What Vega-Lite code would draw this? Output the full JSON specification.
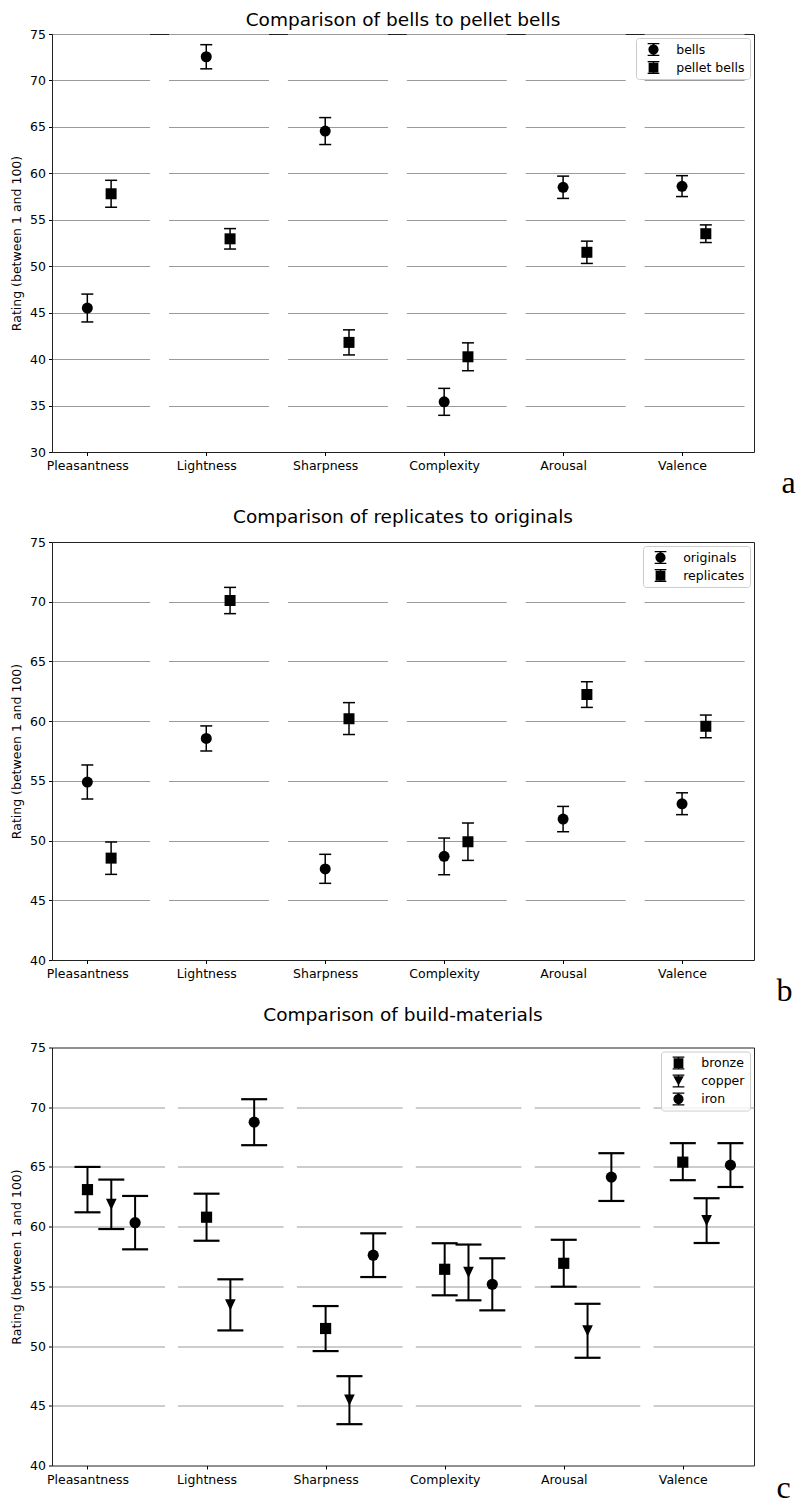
{
  "$schema": "https://vega.github.io/schema/vega-lite/v6.json",
  "padding": {"left": 10, "top": 10, "right": 0, "bottom": 0},
  "background": "white",
  "bounds": "flush",
  "spacing": 90,
  "datasets": {
    "bells": [
      {"attribute": "Pleasantness", "group": "bells", "mean": 45.5, "lower": 44.0, "upper": 47.0},
      {"attribute": "Pleasantness", "group": "pellet bells", "mean": 57.8, "lower": 56.35, "upper": 59.25},
      {"attribute": "Lightness", "group": "bells", "mean": 72.55, "lower": 71.25, "upper": 73.85},
      {"attribute": "Lightness", "group": "pellet bells", "mean": 52.95, "lower": 51.85, "upper": 54.05},
      {"attribute": "Sharpness", "group": "bells", "mean": 64.55, "lower": 63.1, "upper": 66.0},
      {"attribute": "Sharpness", "group": "pellet bells", "mean": 41.8, "lower": 40.45, "upper": 43.15},
      {"attribute": "Complexity", "group": "bells", "mean": 35.4, "lower": 33.95, "upper": 36.85},
      {"attribute": "Complexity", "group": "pellet bells", "mean": 40.25, "lower": 38.75, "upper": 41.75},
      {"attribute": "Arousal", "group": "bells", "mean": 58.5, "lower": 57.3, "upper": 59.7},
      {"attribute": "Arousal", "group": "pellet bells", "mean": 51.5, "lower": 50.3, "upper": 52.7},
      {"attribute": "Valence", "group": "bells", "mean": 58.6, "lower": 57.5, "upper": 59.75},
      {"attribute": "Valence", "group": "pellet bells", "mean": 53.5, "lower": 52.55, "upper": 54.45}
    ],
    "replicates": [
      {"attribute": "Pleasantness", "group": "originals", "mean": 54.9, "lower": 53.48, "upper": 56.33},
      {"attribute": "Pleasantness", "group": "replicates", "mean": 48.53, "lower": 47.17, "upper": 49.88},
      {"attribute": "Lightness", "group": "originals", "mean": 58.55, "lower": 57.5, "upper": 59.6},
      {"attribute": "Lightness", "group": "replicates", "mean": 70.1, "lower": 69.0, "upper": 71.2},
      {"attribute": "Sharpness", "group": "originals", "mean": 47.63, "lower": 46.42, "upper": 48.85},
      {"attribute": "Sharpness", "group": "replicates", "mean": 60.2, "lower": 58.88, "upper": 61.55},
      {"attribute": "Complexity", "group": "originals", "mean": 48.68, "lower": 47.14, "upper": 50.21},
      {"attribute": "Complexity", "group": "replicates", "mean": 49.9, "lower": 48.34, "upper": 51.47},
      {"attribute": "Arousal", "group": "originals", "mean": 51.8, "lower": 50.74, "upper": 52.86},
      {"attribute": "Arousal", "group": "replicates", "mean": 62.23, "lower": 61.15, "upper": 63.3},
      {"attribute": "Valence", "group": "originals", "mean": 53.08, "lower": 52.17, "upper": 54.0},
      {"attribute": "Valence", "group": "replicates", "mean": 59.57, "lower": 58.61, "upper": 60.51}
    ],
    "materials": [
      {"attribute": "Pleasantness", "group": "bronze", "mean": 63.1, "lower": 61.2, "upper": 65.0},
      {"attribute": "Pleasantness", "group": "copper", "mean": 61.87, "lower": 59.8, "upper": 63.94},
      {"attribute": "Pleasantness", "group": "iron", "mean": 60.33, "lower": 58.1, "upper": 62.57},
      {"attribute": "Lightness", "group": "bronze", "mean": 60.79, "lower": 58.82, "upper": 62.76},
      {"attribute": "Lightness", "group": "copper", "mean": 53.45, "lower": 51.31, "upper": 55.59},
      {"attribute": "Lightness", "group": "iron", "mean": 68.75, "lower": 66.82, "upper": 70.67},
      {"attribute": "Sharpness", "group": "bronze", "mean": 51.47, "lower": 49.58, "upper": 53.35},
      {"attribute": "Sharpness", "group": "copper", "mean": 45.47, "lower": 43.46, "upper": 47.48},
      {"attribute": "Sharpness", "group": "iron", "mean": 57.61, "lower": 55.78, "upper": 59.44},
      {"attribute": "Complexity", "group": "bronze", "mean": 56.43, "lower": 54.25, "upper": 58.61},
      {"attribute": "Complexity", "group": "copper", "mean": 56.17, "lower": 53.83, "upper": 58.5},
      {"attribute": "Complexity", "group": "iron", "mean": 55.17, "lower": 52.99, "upper": 57.35},
      {"attribute": "Arousal", "group": "bronze", "mean": 56.93, "lower": 54.97, "upper": 58.9},
      {"attribute": "Arousal", "group": "copper", "mean": 51.28, "lower": 49.02, "upper": 53.54},
      {"attribute": "Arousal", "group": "iron", "mean": 64.15, "lower": 62.15, "upper": 66.15},
      {"attribute": "Valence", "group": "bronze", "mean": 65.4, "lower": 63.89, "upper": 66.99},
      {"attribute": "Valence", "group": "copper", "mean": 60.5, "lower": 58.63, "upper": 62.38},
      {"attribute": "Valence", "group": "iron", "mean": 65.15, "lower": 63.32, "upper": 66.99}
    ]
  },
  "resolve": {"scale": {"shape": "independent", "x": "independent", "y": "independent"}, "legend": {"shape": "independent"}},
  "vconcat": [
    {
      "title": {"text": "Comparison of bells to pellet bells", "offset": -16.5, "frame": "group", "baseline": "alphabetic"},
      "width": 702,
      "height": 418,
      "data": {"name": "bells"},
      "transform": [
        {"calculate": "indexof(['Pleasantness','Lightness','Sharpness','Complexity','Arousal','Valence'], datum.attribute) + 0.2 * indexof(['bells','pellet bells'], datum.group)", "as": "xpos"}
      ],
      "encoding": {
        "x": {"field": "xpos", "type": "quantitative", "scale": {"domain": [-0.297, 5.605], "nice": false, "zero": false},
          "axis": {"values": [0, 1, 2, 3, 4, 5], "labelExpr": "['Pleasantness','Lightness','Sharpness','Complexity','Arousal','Valence'][datum.value]", "grid": false, "labelFlush": false, "labelOverlap": false, "labelPadding": 4,
            "title": "a", "titleFont": "Liberation Serif", "titleFontSize": 32, "titleX": 729, "titleY": 40, "titleAlign": "left", "titleBaseline": "alphabetic", "titleAngle": 0}}
      },
      "resolve": {"scale": {"shape": "independent"}, "legend": {"shape": "independent"}},
      "layer": [
        {
          "mark": {"type": "rule", "color": "black", "strokeWidth": 1.5},
          "encoding": {
            "y": {"field": "lower", "type": "quantitative", "title": "Rating (between 1 and 100)", "scale": {"domain": [30, 75], "nice": false, "zero": false},
              "axis": {"values": [30, 35, 40, 45, 50, 55, 60, 65, 70, 75], "grid": true, "gridColor": "#9a9a9a", "gridWidth": 1,
                "gridDash": [97.5, 19, 100, 18.9, 100, 18.9, 100, 18.9, 100, 18.9, 100, 50],
                "gridOpacity": {"condition": {"test": "datum.value === 30", "value": 0}, "value": 1},
                "titlePadding": 6, "labelPadding": 3}},
            "y2": {"field": "upper"}
          }
        },
        {
          "mark": {"type": "tick", "orient": "horizontal", "color": "black", "size": 12, "thickness": 1.5, "opacity": 1},
          "encoding": {"y": {"field": "lower", "type": "quantitative", "title": "Rating (between 1 and 100)"}}
        },
        {
          "mark": {"type": "tick", "orient": "horizontal", "color": "black", "size": 12, "thickness": 1.5, "opacity": 1},
          "encoding": {"y": {"field": "upper", "type": "quantitative", "title": "Rating (between 1 and 100)"}}
        },
        {
          "mark": {"type": "point", "filled": true, "color": "black", "opacity": 1, "size": 121, "strokeWidth": 0},
          "encoding": {
            "y": {"field": "mean", "type": "quantitative", "title": "Rating (between 1 and 100)"},
            "shape": {"field": "group", "type": "nominal", "scale": {"domain": ["bells", "pellet bells"], "range": ["circle", "square"]}, "legend": null}
          }
        },
        {
          "mark": {"type": "point", "filled": true, "color": "black", "opacity": 0, "size": 169, "strokeWidth": 0},
          "encoding": {
            "y": {"field": "mean", "type": "quantitative", "title": "Rating (between 1 and 100)"},
            "shape": {"field": "group", "type": "nominal", "scale": {"domain": ["bells", "pellet bells"],
              "range": ["M-0.9,-1H0.9V-0.8H-0.9Z M-0.9,0.8H0.9V1H-0.9Z M-0.11,-1H0.11V1H-0.11Z M-0.78,0A0.78,0.78 0 1,1 0.78,0A0.78,0.78 0 1,1 -0.78,0Z", "M-0.9,-1H0.9V-0.8H-0.9Z M-0.9,0.8H0.9V1H-0.9Z M-0.11,-1H0.11V1H-0.11Z M-0.75,-0.75H0.75V0.75H-0.75Z"]},
              "legend": {"title": null, "orient": "top-right", "offset": 4}}
          }
        }
      ]
    },
    {
      "bounds": "flush",
      "spacing": 87.5,
      "resolve": {"scale": {"shape": "independent", "x": "independent", "y": "independent"}, "legend": {"shape": "independent"}},
      "vconcat": [
        {
          "title": {"text": "Comparison of replicates to originals", "offset": -5.5, "frame": "group", "baseline": "alphabetic"},
          "width": 702,
          "height": 418,
          "data": {"name": "replicates"},
          "transform": [
            {"calculate": "indexof(['Pleasantness','Lightness','Sharpness','Complexity','Arousal','Valence'], datum.attribute) + 0.2 * indexof(['originals','replicates'], datum.group)", "as": "xpos"}
          ],
          "encoding": {
            "x": {"field": "xpos", "type": "quantitative", "scale": {"domain": [-0.297, 5.605], "nice": false, "zero": false},
              "axis": {"values": [0, 1, 2, 3, 4, 5], "labelExpr": "['Pleasantness','Lightness','Sharpness','Complexity','Arousal','Valence'][datum.value]", "grid": false, "labelFlush": false, "labelOverlap": false, "labelPadding": 4,
                "title": "b", "titleFont": "Liberation Serif", "titleFontSize": 32, "titleX": 724, "titleY": 40, "titleAlign": "left", "titleBaseline": "alphabetic", "titleAngle": 0}}
          },
          "resolve": {"scale": {"shape": "independent"}, "legend": {"shape": "independent"}},
          "layer": [
            {
              "mark": {"type": "rule", "color": "black", "strokeWidth": 1.5},
              "encoding": {
                "y": {"field": "lower", "type": "quantitative", "title": "Rating (between 1 and 100)", "scale": {"domain": [40, 75], "nice": false, "zero": false},
                  "axis": {"values": [40, 45, 50, 55, 60, 65, 70, 75], "grid": true, "gridColor": "#9a9a9a", "gridWidth": 1,
                    "gridDash": [97.5, 19, 100, 18.9, 100, 18.9, 100, 18.9, 100, 18.9, 100, 50],
                    "gridOpacity": {"condition": {"test": "datum.value === 40 || datum.value === 75", "value": 0}, "value": 1},
                    "titlePadding": 6, "labelPadding": 3}},
                "y2": {"field": "upper"}
              }
            },
            {
              "mark": {"type": "tick", "orient": "horizontal", "color": "black", "size": 12, "thickness": 1.5, "opacity": 1},
              "encoding": {"y": {"field": "lower", "type": "quantitative", "title": "Rating (between 1 and 100)"}}
            },
            {
              "mark": {"type": "tick", "orient": "horizontal", "color": "black", "size": 12, "thickness": 1.5, "opacity": 1},
              "encoding": {"y": {"field": "upper", "type": "quantitative", "title": "Rating (between 1 and 100)"}}
            },
            {
              "mark": {"type": "point", "filled": true, "color": "black", "opacity": 1, "size": 121, "strokeWidth": 0},
              "encoding": {
                "y": {"field": "mean", "type": "quantitative", "title": "Rating (between 1 and 100)"},
                "shape": {"field": "group", "type": "nominal", "scale": {"domain": ["originals", "replicates"], "range": ["circle", "square"]}, "legend": null}
              }
            },
            {
              "mark": {"type": "point", "filled": true, "color": "black", "opacity": 0, "size": 169, "strokeWidth": 0},
              "encoding": {
                "y": {"field": "mean", "type": "quantitative", "title": "Rating (between 1 and 100)"},
                "shape": {"field": "group", "type": "nominal", "scale": {"domain": ["originals", "replicates"],
                  "range": ["M-0.9,-1H0.9V-0.8H-0.9Z M-0.9,0.8H0.9V1H-0.9Z M-0.11,-1H0.11V1H-0.11Z M-0.78,0A0.78,0.78 0 1,1 0.78,0A0.78,0.78 0 1,1 -0.78,0Z", "M-0.9,-1H0.9V-0.8H-0.9Z M-0.9,0.8H0.9V1H-0.9Z M-0.11,-1H0.11V1H-0.11Z M-0.75,-0.75H0.75V0.75H-0.75Z"]},
                  "legend": {"title": null, "orient": "top-right", "offset": 4}}
              }
            }
          ]
        },
        {
          "title": {"text": "Comparison of build-materials", "offset": 2, "frame": "group", "baseline": "alphabetic"},
          "width": 702,
          "height": 418,
          "data": {"name": "materials"},
          "transform": [
            {"calculate": "indexof(['Pleasantness','Lightness','Sharpness','Complexity','Arousal','Valence'], datum.attribute) + 0.2 * indexof(['bronze','copper','iron'], datum.group)", "as": "xpos"}
          ],
          "encoding": {
            "x": {"field": "xpos", "type": "quantitative", "scale": {"domain": [-0.298, 5.598], "nice": false, "zero": false},
              "axis": {"values": [0, 1, 2, 3, 4, 5], "labelExpr": "['Pleasantness','Lightness','Sharpness','Complexity','Arousal','Valence'][datum.value]", "grid": false, "labelFlush": false, "labelOverlap": false, "labelPadding": 4,
                "title": "c", "titleFont": "Liberation Serif", "titleFontSize": 32, "titleX": 724, "titleY": 32, "titleAlign": "left", "titleBaseline": "alphabetic", "titleAngle": 0}}
          },
          "resolve": {"scale": {"shape": "independent"}, "legend": {"shape": "independent"}},
          "layer": [
            {
              "mark": {"type": "rule", "color": "black", "strokeWidth": 2},
              "encoding": {
                "y": {"field": "lower", "type": "quantitative", "title": "Rating (between 1 and 100)", "scale": {"domain": [40, 75], "nice": false, "zero": false},
                  "axis": {"values": [40, 45, 50, 55, 60, 65, 70, 75], "grid": true, "gridColor": "#9a9a9a", "gridWidth": 1,
                    "gridDash": [112.5, 13, 105.6, 13.3, 105.6, 13.3, 105.6, 13.3, 105.6, 13.3, 105.6, 50],
                    "gridOpacity": {"condition": {"test": "datum.value === 40 || datum.value === 75", "value": 0}, "value": 1},
                    "titlePadding": 6, "labelPadding": 3}},
                "y2": {"field": "upper"}
              }
            },
            {
              "mark": {"type": "tick", "orient": "horizontal", "color": "black", "size": 26, "thickness": 2.2, "opacity": 1},
              "encoding": {"y": {"field": "lower", "type": "quantitative", "title": "Rating (between 1 and 100)"}}
            },
            {
              "mark": {"type": "tick", "orient": "horizontal", "color": "black", "size": 26, "thickness": 2.2, "opacity": 1},
              "encoding": {"y": {"field": "upper", "type": "quantitative", "title": "Rating (between 1 and 100)"}}
            },
            {
              "mark": {"type": "point", "filled": true, "color": "black", "opacity": 1, "size": 125, "strokeWidth": 0},
              "encoding": {
                "y": {"field": "mean", "type": "quantitative", "title": "Rating (between 1 and 100)"},
                "shape": {"field": "group", "type": "nominal", "scale": {"domain": ["bronze", "copper", "iron"], "range": ["square", "M-0.95,-1L0.95,-1L0,1Z", "circle"]}, "legend": null}
              }
            },
            {
              "mark": {"type": "point", "filled": true, "color": "black", "opacity": 0, "size": 169, "strokeWidth": 0},
              "encoding": {
                "y": {"field": "mean", "type": "quantitative", "title": "Rating (between 1 and 100)"},
                "shape": {"field": "group", "type": "nominal", "scale": {"domain": ["bronze", "copper", "iron"],
                  "range": ["M-0.9,-1H0.9V-0.8H-0.9Z M-0.9,0.8H0.9V1H-0.9Z M-0.11,-1H0.11V1H-0.11Z M-0.75,-0.75H0.75V0.75H-0.75Z", "M-0.9,-1H0.9V-0.8H-0.9Z M-0.9,0.8H0.9V1H-0.9Z M-0.11,-1H0.11V1H-0.11Z M-0.8,-0.72H0.8L0,0.72Z", "M-0.9,-1H0.9V-0.8H-0.9Z M-0.9,0.8H0.9V1H-0.9Z M-0.11,-1H0.11V1H-0.11Z M-0.78,0A0.78,0.78 0 1,1 0.78,0A0.78,0.78 0 1,1 -0.78,0Z"]},
                  "legend": {"title": null, "orient": "top-right", "offset": 4}}
              }
            }
          ]
        }
      ]
    }
  ],
  "config": {
    "font": "DejaVu Sans",
    "view": {"stroke": "#222222", "strokeWidth": 1},
    "axis": {"domain": false, "tickColor": "black", "tickSize": 3.5, "tickWidth": 1, "labelColor": "black", "labelFontSize": 12.5, "labelFont": "DejaVu Sans",
      "titleFont": "DejaVu Sans", "titleFontWeight": "normal", "titleColor": "black", "titleFontSize": 12.5},
    "title": {"font": "DejaVu Sans", "fontSize": 18.5, "fontWeight": "normal", "color": "black", "anchor": "middle"},
    "legend": {"fillColor": "rgba(255,255,255,0.8)", "strokeColor": "#cccccc", "cornerRadius": 3, "padding": 5,
      "labelFont": "DejaVu Sans", "labelFontSize": 12.5, "labelColor": "black", "symbolSize": 169, "symbolFillColor": "black",
      "symbolStrokeColor": "black", "symbolStrokeWidth": 0, "symbolOpacity": 1, "symbolOffset": 6, "labelOffset": 16.2, "rowPadding": 5}
  }
}
